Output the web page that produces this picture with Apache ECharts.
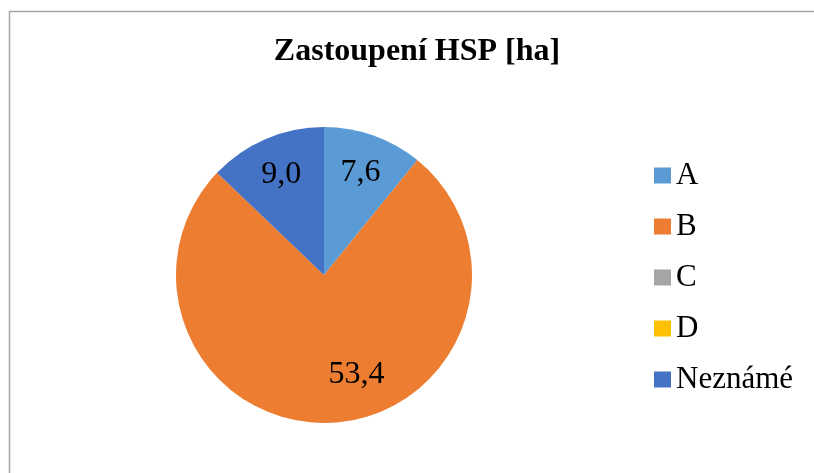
<!DOCTYPE html>
<html><head><meta charset="utf-8">
<script src="https://cdn.jsdelivr.net/npm/echarts@6/dist/echarts.min.js"></script>
<style>html,body{margin:0;padding:0;background:#fff}#c{width:814px;height:473px}</style>
</head><body><div id="c"></div>
<script>
const titleText = 'Zastoupení HSP [ha]';
const categories = ['A', 'B', 'C', 'D', 'Neznámé'];
const values = [7.6, 53.4, 0, 0, 9.0];
const colors = ['#5B9BD5', '#ED7D31', '#A5A5A5', '#FFC000', '#4472C4'];
const FONT = '"Liberation Serif","Times New Roman",serif';

const fmt = v => v.toFixed(1).replace('.', ',');
const chart = echarts.init(document.getElementById('c'));
const base = categories.map((n, i) => ({ name: n, value: values[i], itemStyle: { color: colors[i] } }));
function ghost(showNames, radius, startAngle) {
  return {
    type: 'pie', silent: true, legendHoverLink: false,
    center: [324, 275], radius: radius, startAngle: startAngle,
    itemStyle: { color: 'rgba(0,0,0,0)', borderWidth: 0 },
    emphasis: { disabled: true },
    labelLine: { show: false },
    data: categories.map((n, i) => ({
      name: n + ' ', value: values[i],
      label: { show: showNames.includes(n) && values[i] > 0 }
    })),
    label: {
      position: 'inside', formatter: p => fmt(p.value),
      fontFamily: FONT, fontSize: 32, color: '#000'
    }
  };
}
chart.setOption({
  backgroundColor: '#fff',
  animation: false,
  title: {
    text: titleText, left: 412, top: 31, textAlign: 'center',
    textStyle: { fontFamily: FONT, fontSize: 32, fontWeight: 'bold', color: '#000' }
  },
  graphic: [{
    type: 'rect', shape: { x: 9.5, y: 11.5, width: 900, height: 600 },
    style: { fill: 'none', stroke: '#A6A6A6', lineWidth: 1.5 }, silent: true
  }],
  legend: {
    orient: 'vertical', left: 649, top: 155,
    itemWidth: 17, itemHeight: 16, itemGap: 20,
    icon: 'rect',
    data: categories,
    textStyle: { fontFamily: FONT, fontSize: 31, color: '#000', padding: [0, 0, 0, 0] },
    selectedMode: false
  },
  series: [{
    type: 'pie', center: [324, 275], radius: 148, startAngle: 90,
    clockwise: true,
    itemStyle: { borderWidth: 0 },
    label: { show: false }, labelLine: { show: false },
    emphasis: { disabled: true },
    data: base
  },
  ghost(['A', 'Neznámé'], 212, 90),
  ghost(['B'], 204, 104.4)
  ]
});
</script></body></html>
